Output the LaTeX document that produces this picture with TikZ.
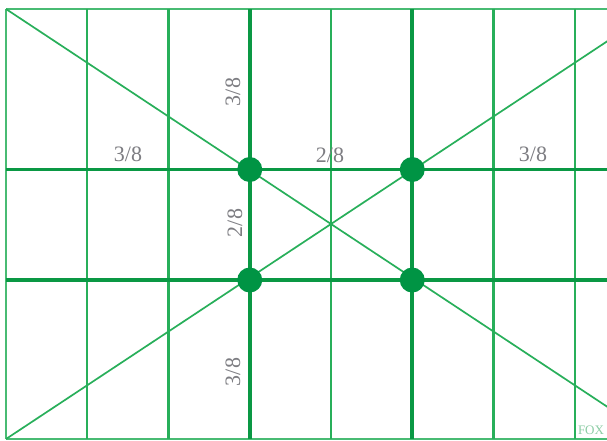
\documentclass[tikz,border=0pt]{standalone}
\usepackage{fontspec}
\setmainfont{Liberation Serif}
\definecolor{gridgreen}{RGB}{40,175,90}
\definecolor{thickgreen}{RGB}{10,152,68}
\definecolor{dotgreen}{RGB}{0,148,68}
\definecolor{labelgray}{RGB}{125,125,130}
\definecolor{foxgreen}{RGB}{140,205,165}
\tikzset{
  thinline/.style={draw=gridgreen, line width=2.2pt},
  thickline/.style={draw=thickgreen, line width=3.8pt},
  diagline/.style={draw=gridgreen, line width=1.7pt},
  border/.style={draw=gridgreen!85, line width=2.4pt},
  dotnode/.style={circle, fill=dotgreen, minimum size=25pt, inner sep=0pt},
  frac/.style={text=labelgray, font=\fontsize{22}{22}\selectfont, inner sep=0pt},
}
\begin{document}
\begin{tikzpicture}[x=1pt,y=-1pt]
\useasboundingbox (0,0) rectangle (607,440);
\fill[white] (0,0) rectangle (607,440);
\begin{scope}
\clip (0,0) rectangle (607,440);
% frame corners
\coordinate (TL) at (6,9);
\coordinate (TR) at (656,9);
\coordinate (BL) at (6,439);
\coordinate (BR) at (656,439);
% border
\draw[border] (TL) -- (TR);
\draw[border] (BL) -- (BR);
\draw[border] (TL) -- (BL);
% thin verticals
\foreach \i in {1,2,4,6,7} {
  \coordinate (vt\i) at ({6+81.25*\i},9);
  \coordinate (vb\i) at ({6+81.25*\i},439);
  \draw[thinline] (vt\i) -- (vb\i);
}
% diagonals
\draw[diagline] (TL) -- (BR);
\draw[diagline] (BL) -- (TR);
% thick lines
\coordinate (A1) at (249.75,9);
\coordinate (A2) at (249.75,439);
\coordinate (B1) at (412.25,9);
\coordinate (B2) at (412.25,439);
\coordinate (H1l) at (6,169.5);
\coordinate (H1r) at (656,169.5);
\coordinate (H2l) at (6,280);
\coordinate (H2r) at (656,280);
\draw[thickline] (A1) -- (A2);
\draw[thickline] (B1) -- (B2);
\draw[thickline] (H1l) -- (H1r);
\draw[thickline] (H2l) -- (H2r);
% dots
\node[dotnode] (d1) at (249.75,169.5) {};
\node[dotnode] (d2) at (412.25,169.5) {};
\node[dotnode] (d3) at (249.75,280) {};
\node[dotnode] (d4) at (412.25,280) {};
\end{scope}
% labels
\node[frac] (l1) at (128,154) {3/8};
\node[frac] (l2) at (330,155) {2/8};
\node[frac] (l3) at (533,154) {3/8};
\node[frac, rotate=90] (l4) at (233,92) {3/8};
\node[frac, rotate=90] (l5) at (235,223) {2/8};
\node[frac, rotate=90] (l6) at (233,372) {3/8};
\node[text=foxgreen, font=\fontsize{13}{13}\selectfont, inner sep=0pt] (fox) at (591,430) {FOX};
\end{tikzpicture}
\end{document}
